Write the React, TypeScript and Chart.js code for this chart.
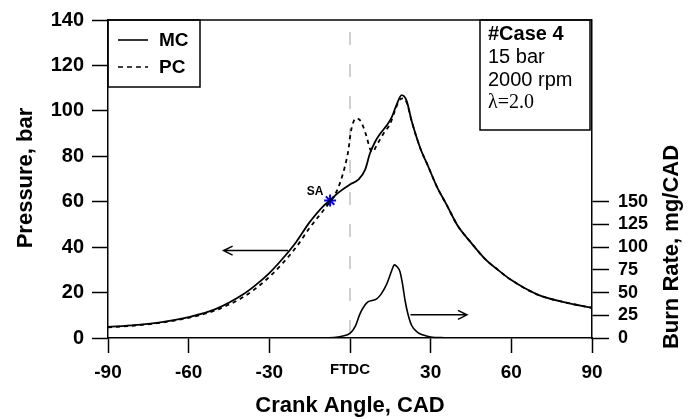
import React, { useEffect, useRef } from "react";
import { Chart, registerables } from "chart.js";
Chart.register(...registerables);

const xTickValues = [-90, -60, -30, 0, 30, 60, 90];
const xTickLabels = ["-90", "-60", "-30", "FTDC", "30", "60", "90"];

const mcAngle = [-90, -80, -70, -60, -50, -40, -35, -30, -25, -20, -15, -10, -7.5, -4.3, 0, 3.1, 5.6, 7.4, 9.3, 11.2, 13.6, 15.5, 17.4, 19.2, 21.1, 22.9, 26, 29.1, 32.2, 36, 40, 45, 50, 55, 60, 70, 80, 90];
const mcPressure = [4.9, 5.7, 7.0, 9.2, 12.7, 19.0, 23.4, 28.6, 35, 42.3, 51, 58, 60.5, 64, 67.6, 69.7, 74, 81.2, 86.3, 89.9, 93.5, 97.1, 102.9, 106.9, 104.3, 95.6, 84, 75.5, 66.9, 58.5, 49.5, 42, 35.1, 30, 25.5, 19, 15.7, 13.3];

const pcAngle = [-90, -80, -70, -60, -50, -40, -35, -30, -25, -20, -15, -10, -7.5, -5, -3.7, -1.9, -0.6, 0.2, 1.2, 2.2, 3.7, 5, 6.2, 7.4, 8.4, 9.9, 12.4, 14.9, 16.7, 18.3, 19.8, 21.1, 22.9, 26, 29.1, 32.2, 36, 40, 45, 50, 55, 60, 70, 80, 90];
const pcPressure = [4.7, 5.5, 6.8, 8.9, 12.2, 17.8, 21.9, 26.9, 33, 40, 48.5, 56, 59.8, 64.5, 68.3, 75.5, 82.7, 89.9, 94.9, 96.7, 95.9, 92.8, 88.5, 83.4, 82, 84.8, 89.9, 94.2, 100, 104.6, 105.5, 103.6, 95.6, 84, 75.5, 66.9, 58.5, 49.5, 42, 35.1, 30, 25.5, 19, 15.7, 13.3];

const burnAngle = [-90, -10, -6, -3, 0, 2, 3.7, 5.5, 6.8, 8.5, 9.9, 11.5, 13.6, 15.5, 16.5, 17.5, 18.6, 19.5, 20.5, 21.5, 22.9, 25, 27.3, 30, 35, 45, 90];
const burnRate = [0, 0, 0.5, 2, 5, 13, 26.6, 36, 40, 41.5, 43, 48, 59, 74, 80.5, 78.5, 73, 60, 41, 27, 14, 6.5, 3.2, 1, 0.3, 0, 0];

const saAngle = [-7.4];
const saPressure = [60.5];

const legendLabels = ["MC", "PC"];
const infoLines = ["#Case 4", "15 bar", "2000 rpm", "λ=2.0"];

const FONT = "'Liberation Sans', Arial, sans-serif";

function pts(xs: number[], ys: number[]) {
  return xs.map((x, i) => ({ x, y: ys[i] }));
}

const overlay = {
  id: "overlay",
  beforeDatasetsDraw(chart: any) {
    const { ctx, chartArea } = chart;
    const xs = chart.scales.x;
    const x0 = xs.getPixelForValue(0);
    ctx.save();
    ctx.strokeStyle = "#a0a0a0";
    ctx.lineWidth = 1;
    ctx.setLineDash([13, 19]);
    ctx.beginPath();
    ctx.moveTo(x0, chartArea.top + 12);
    ctx.lineTo(x0, chartArea.bottom);
    ctx.stroke();
    ctx.restore();
  },
  afterDraw(chart: any) {
    const { ctx, chartArea } = chart;
    const { left, right, top, bottom } = chartArea;
    ctx.save();
    ctx.strokeStyle = "#000";
    ctx.fillStyle = "#000";
    ctx.lineWidth = 1.5;
    ctx.setLineDash([]);
    // top frame
    ctx.beginPath();
    ctx.moveTo(left, top);
    ctx.lineTo(right, top);
    ctx.stroke();

    // legend box
    ctx.lineWidth = 1.5;
    ctx.strokeRect(left, top, 92, 67);
    ctx.font = `bold 19px ${FONT}`;
    ctx.textBaseline = "middle";
    ctx.textAlign = "left";
    const ly = [top + 20, top + 47];
    legendLabels.forEach((lab, i) => {
      ctx.lineWidth = 1.6;
      ctx.setLineDash(i === 1 ? [5, 4] : []);
      ctx.beginPath();
      ctx.moveTo(left + 10, ly[i]);
      ctx.lineTo(left + 40, ly[i]);
      ctx.stroke();
      ctx.setLineDash([]);
      ctx.fillText(lab, left + 51, ly[i] + 1);
    });

    // info box
    ctx.lineWidth = 1.5;
    ctx.strokeRect(480, top, 110, 110);
    const iy = [34, 57, 80, 103];
    infoLines.forEach((t, i) => {
      if (i === 0) ctx.font = `bold 20px ${FONT}`;
      else if (i === 3) ctx.font = `20px 'Liberation Serif', 'Times New Roman', serif`;
      else ctx.font = `20px ${FONT}`;
      ctx.fillText(t, 488, iy[i]);
    });

    // arrows
    const arrow = (x1: number, y: number, x2: number) => {
      const dir = x2 > x1 ? 1 : -1;
      ctx.lineWidth = 1.5;
      ctx.beginPath();
      ctx.moveTo(x1, y);
      ctx.lineTo(x2, y);
      ctx.moveTo(x2 - dir * 9, y - 4.5);
      ctx.lineTo(x2, y);
      ctx.lineTo(x2 - dir * 9, y + 4.5);
      ctx.stroke();
    };
    const ys = chart.scales.y;
    const xs = chart.scales.x;
    arrow(xs.getPixelForValue(-23), ys.getPixelForValue(38.5), xs.getPixelForValue(-47));
    const y2 = chart.scales.y2;
    arrow(xs.getPixelForValue(22.5), y2.getPixelForValue(25.5), xs.getPixelForValue(43.5));

    // SA label
    ctx.font = `bold 12px ${FONT}`;
    ctx.textAlign = "center";
    ctx.fillText("SA", xs.getPixelForValue(-13), ys.getPixelForValue(64.5));

    // axis titles
    ctx.font = `bold 22px ${FONT}`;
    ctx.textAlign = "center";
    ctx.fillText("Crank Angle, CAD", (left + right) / 2, 406);
    ctx.save();
    ctx.translate(26, 178);
    ctx.rotate(-Math.PI / 2);
    ctx.fillText("Pressure, bar", 0, 0);
    ctx.restore();
    ctx.save();
    ctx.translate(672, 247);
    ctx.rotate(-Math.PI / 2);
    ctx.fillText("Burn Rate, mg/CAD", 0, 0);
    ctx.restore();
    ctx.restore();
  },
};

export default function App() {
  const ref = useRef<HTMLCanvasElement>(null);
  useEffect(() => {
    const canvas = ref.current;
    if (!canvas) return;
    const chart = new Chart(canvas, {
      type: "line",
      data: {
        datasets: [
          {
            label: "MC",
            data: pts(mcAngle, mcPressure),
            borderColor: "#000",
            borderWidth: 1.8,
            pointRadius: 0,
            cubicInterpolationMode: "monotone",
            yAxisID: "y",
          },
          {
            label: "PC",
            data: pts(pcAngle, pcPressure),
            borderColor: "#000",
            borderWidth: 1.8,
            borderDash: [4, 4],
            pointRadius: 0,
            cubicInterpolationMode: "monotone",
            yAxisID: "y",
          },
          {
            label: "Burn",
            data: pts(burnAngle, burnRate),
            borderColor: "#000",
            borderWidth: 1.6,
            pointRadius: 0,
            cubicInterpolationMode: "monotone",
            yAxisID: "y2",
          },
          {
            label: "SA",
            data: pts(saAngle, saPressure),
            showLine: false,
            pointStyle: "star",
            pointRadius: 6,
            pointBorderColor: "#0000ff",
            pointBorderWidth: 2,
            borderColor: "#0000ff",
            yAxisID: "y",
          },
        ],
      } as any,
      options: {
        responsive: false,
        devicePixelRatio: 1,
        animation: false,
        layout: { padding: { top: 14, left: 0, right: 0, bottom: 0 } },
        plugins: { legend: { display: false }, tooltip: { enabled: false } },
        scales: {
          x: {
            type: "linear",
            min: -90,
            max: 90,
            afterFit: (s: any) => { s.height = 81; },
            afterBuildTicks: (s: any) => { s.ticks = xTickValues.map((v) => ({ value: v })); },
            ticks: {
              stepSize: 30,
              color: "#000",
              padding: 8,
              maxRotation: 0,
              autoSkip: false,
              callback: (v: any) => {
                const i = xTickValues.indexOf(Number(v));
                return i >= 0 ? xTickLabels[i] : "";
              },
              font: (c: any) =>
                c.tick && c.tick.value === 0
                  ? { family: FONT, size: 15, weight: "bold" }
                  : { family: FONT, size: 19, weight: "bold" },
            },
            grid: { drawOnChartArea: false, drawTicks: true, tickLength: 15, tickColor: "#000", tickWidth: 1.5 },
            border: { color: "#000", width: 1.5 },
          },
          y: {
            position: "left",
            min: 0,
            max: 140,
            afterFit: (s: any) => { s.width = 108; },
            ticks: { stepSize: 20, color: "#000", padding: 8, font: { family: FONT, size: 20, weight: "bold" } },
            grid: { drawOnChartArea: false, drawTicks: true, tickLength: 16, tickColor: "#000", tickWidth: 1.5 },
            border: { color: "#000", width: 1.5 },
          },
          y2: {
            position: "right",
            min: 0,
            max: 350,
            afterFit: (s: any) => { s.width = 99; },
            afterBuildTicks: (s: any) => { s.ticks = s.ticks.filter((t: any) => t.value <= 150); },
            ticks: { stepSize: 25, color: "#000", padding: 9, font: { family: FONT, size: 18, weight: "bold" } },
            grid: { drawOnChartArea: false, drawTicks: true, tickLength: 17, tickColor: "#000", tickWidth: 1.5 },
            border: { color: "#000", width: 1.5 },
          },
        },
      } as any,
      plugins: [overlay],
    });
    return () => chart.destroy();
  }, []);
  return (
    <div style={{ position: "fixed", left: 0, top: 0, width: 691, height: 419, background: "#fff" }}>
      <canvas ref={ref} width={691} height={419} style={{ display: "block", width: 691, height: 419 }} />
    </div>
  );
}
